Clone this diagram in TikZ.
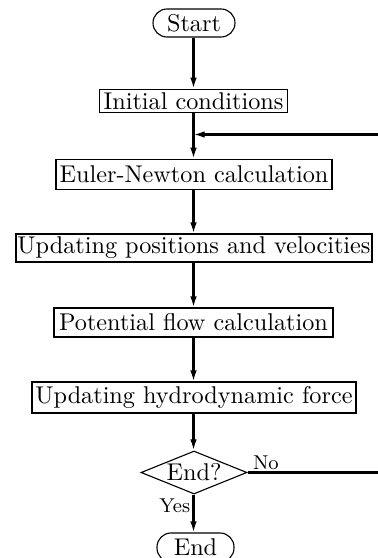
\documentclass[tikz,border=0pt]{standalone}
\usetikzlibrary{arrows.meta,shapes.geometric}
\begin{document}
\begin{tikzpicture}[x=0.45pt,y=-0.45pt,
  every node/.style={font=\fontsize{10.9}{13}\selectfont},
  box/.style={draw,line width=0.5pt,inner sep=0pt,rectangle},
  term/.style={box,rounded corners=6.3pt},
  decbox/.style={draw,line width=0.5pt,diamond,inner sep=0pt,aspect=2.46,minimum width=47.7pt,minimum height=19.35pt},
  lbl/.style={font=\fontsize{9}{11}\selectfont,inner sep=1pt},
  flow/.style={line width=0.95pt,-{Latex[length=5pt,width=3pt]}},
  line/.style={line width=0.95pt}]
\useasboundingbox (0,0) rectangle (377,558);
\node[term,minimum width=36.9pt,minimum height=12.6pt] (start) at (194,23) {Start};
\node[box,minimum width=84.6pt,minimum height=10.35pt] (init) at (193.5,100.8) {Initial conditions};
\node[box,minimum width=124.2pt,minimum height=13.5pt] (euler) at (194,174.3) {Euler-Newton calculation};
\node[box,minimum width=160.2pt,minimum height=12.6pt] (upd) at (194,248) {Updating positions and velocities};
\node[box,minimum width=125.55pt,minimum height=13.05pt] (pot) at (193.5,322.5) {Potential flow calculation};
\node[box,minimum width=145.8pt,minimum height=13.95pt] (hyd) at (194,397.5) {Updating hydrodynamic force};
\node[decbox] (dec) at (194,472.5) {End?};
\node[term,minimum width=34.65pt,minimum height=13.05pt] (stop) at (195.5,547.5) {End};
\coordinate (join) at (193.5,134.5);
\coordinate (r1) at (395,472.5);
\coordinate (r2) at (395,134.5);
\draw[flow] (start.south -| init.north) -- (init.north);
\draw[flow] (init.south) -- (euler.north -| init.south);
\draw[flow] (euler.south -| init.south) -- (upd.north -| init.south);
\draw[flow] (upd.south -| init.south) -- (pot.north);
\draw[flow] (pot.south) -- (hyd.north -| pot.south);
\draw[flow] (hyd.south -| pot.south) -- (dec.north -| pot.south);
\draw[flow] (dec.south -| pot.south) -- node[lbl,left,pos=0.3] {Yes} (stop.north -| pot.south);
\draw[line] (dec.east) -- node[lbl,pos=0.0,anchor=south west,xshift=1pt] {No} (r1) -- (r2);
\draw[flow] (r2) -- (join);
\end{tikzpicture}
\end{document}
